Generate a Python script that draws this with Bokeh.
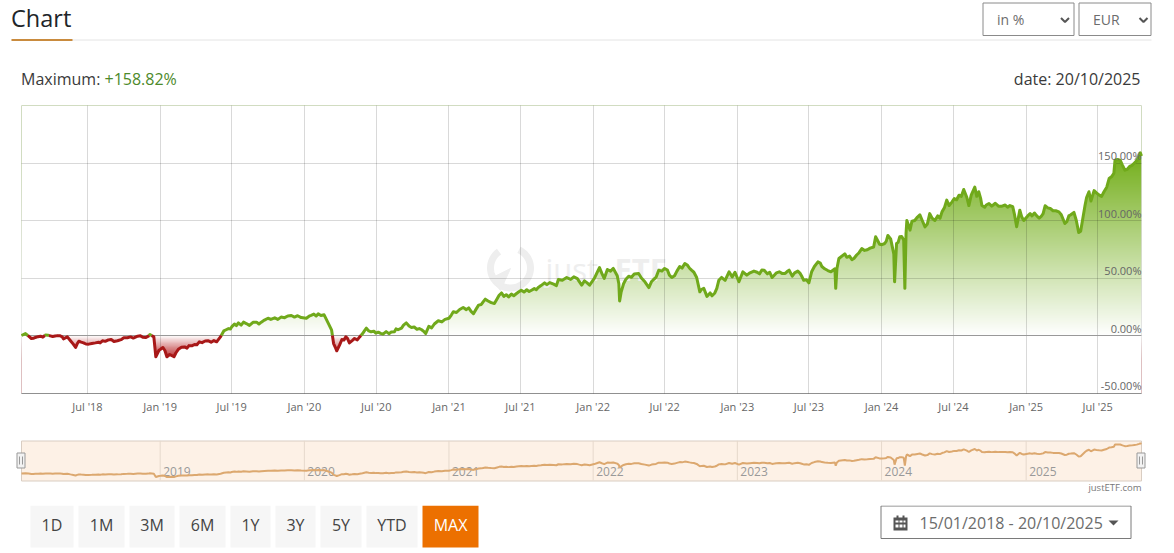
import numpy as np
import pandas as pd
from bokeh.core.properties import value
from bokeh.embed import file_html
from bokeh.layouts import column
from bokeh.models import FixedTicker, Range1d, Span
from bokeh.plotting import figure
from bokeh.resources import INLINE

# ---- data ----
d2018 = ["01-15","01-25","02-02","02-09","02-19","03-04","03-17","03-29","04-10","04-23","05-01","05-11","05-19","06-01","06-09","06-21","07-04","07-21","08-08","08-23","09-15","10-01","10-18","11-05","11-26","12-06","12-16","12-21","12-29"]
v2018 = [0,1.7,-0.6,-2.6,-1.7,-0.6,0.5,-0.3,-0.5,-0.3,-2.9,-1.2,-4.6,-10.4,-5,-6.4,-7.5,-6.4,-4.6,-3.8,-4.6,-2,-1.2,-0.6,-1.7,0.9,-1.2,-18.5,-12.8]
d2019 = ["01-08","01-18","02-05","02-16","03-04","03-22","04-10","05-03","05-24","06-03","06-11","06-23","07-01","07-18","08-07","09-02","09-14","10-01","10-26","11-03","11-29","12-24"]
v2019 = [-10.4,-18.5,-18.5,-12,-9.9,-9,-5.5,-4.6,-5.5,-1,4,6,7.5,11,10.4,11.6,11.6,15,14,16,17.4,15.6]
d2020 = ["01-06","01-25","02-12","02-20","03-02","03-10","03-15","03-23","03-30","04-15","04-24","05-07","05-20","06-06","06-18","07-06","07-18","08-08","08-25","09-15","09-28","10-24","11-03","11-11","12-05"]
v2020 = [15,18.6,17.4,18,10.4,4.6,-7,-13.3,-8.4,-1.2,-6.4,-2.6,-1.2,6.4,3.2,2.9,1.2,3,5,11,7,5,1.7,8,12.8]
d2021 = ["01-01","01-12","02-06","03-04","03-17","04-03","04-26","05-14","06-01","06-21","07-03","07-29","08-15","08-31","09-23","10-05","10-26","11-13","12-03","12-10","12-23"]
v2021 = [15,20.6,24.3,19,26.4,31.6,27.8,37,33.6,36.5,39.4,39.4,41.7,45.8,44.6,48.7,50.4,51,43.8,47.5,43.8]
d2022 = ["01-04","01-17","01-29","02-06","02-21","03-07","03-09","03-19","04-01","04-26","05-12","05-22","06-03","06-16","07-01","07-19","08-01","08-21","09-07","09-20","09-28","10-08","10-16","11-05","11-15","12-01","12-11","12-19","12-26"]
v2022 = [49.6,59,49.6,57.4,58.3,45,30,45,51.6,54,46.7,41.7,48.7,56.8,58.3,50.4,56,62.6,56.8,50.4,38,41,34,37,48,48,55.4,51,55]
d2023 = ["01-05","01-15","01-25","02-12","03-10","03-30","04-17","05-02","05-12","05-20","06-03","06-18","07-01","07-08","07-24","08-10","08-26","09-05","09-07","09-10","09-15","09-30","10-23","11-12","12-12","12-17","12-27"]
v2023 = [46.7,55.4,52.5,56,56.8,50.4,55.4,54,56.8,51.6,56,48,45.8,55.4,64,58,55.4,58,41,58,67,71,67,75.6,77,85.8,79.4]
d2024 = ["01-09","01-17","01-24","02-01","02-03","02-08","02-16","02-26","02-29","03-03","03-05","03-13","03-18","04-07","04-20","05-02","05-15","06-02","06-14","06-27","07-27","08-09","08-24","09-03","09-11","09-29","11-01","11-21","12-08","12-16","12-26"]
v2024 = [80,87,84,71,46.7,80,85.8,83,41,88.7,100,91.6,99.4,105,94.5,106,100,107.5,117.7,116,127,113,129,125,113,114.8,112.5,113,94.5,109,100]
d2025 = ["01-11","02-03","02-18","03-25","04-09","04-19","05-02","05-14","05-19","05-30","06-09","06-14","06-22","07-05","07-17","07-30","08-11","08-14","08-27","09-08","09-26","10-14","10-17","10-20"]
v2025 = [106,102,112.8,107.5,97.4,104,107,89.6,90.7,113,125,117,126,122,125,136.5,141,152.5,152.5,143.8,148,156,158.8,156]

# smaller wiggles of the same curve
e2018 = ["02-14","02-26","03-10","03-23","04-04","04-17","04-28","05-26","06-05","06-15","06-27","07-12","07-29","08-02","08-15","08-30","09-06","09-24","10-10","10-25","11-12","11-18","12-02"]
w2018 = [-2.4,-1,-1.4,0.2,-0.9,-0.1,-1.1,-7.5,-7.2,-5.8,-7.4,-7,-5.8,-6.4,-5.1,-3.5,-5.2,-3.6,-1.9,-2.2,-0.3,-1.5,-0.6]
e2019 = ["01-02","01-13","01-25","02-10","02-24","03-10","03-15","03-29","04-04","04-17","04-25","05-10","05-17","06-17","06-28","07-08","07-13","07-25","07-31","08-15","08-24","09-08","09-22","10-08","10-18","11-12","11-20","12-07","12-15"]
w2019 = [-12,-13,-16.5,-15,-10.2,-11,-8.8,-7.8,-8,-6.2,-4.8,-5.8,-4.4,5,5.7,10,8.6,9,11.6,8.8,11.5,10,13.4,14,15.4,15.5,17,16,17.2]
e2020 = ["01-13","01-18","01-31","02-05","03-19","04-05","04-10","04-19","05-01","05-14","05-27","06-01","06-12","06-25","06-30","07-12","07-26","08-02","08-16","08-20","09-03","09-08","09-22","10-05","10-12","10-18","10-29","11-18","11-25","12-14","12-22"]
w2020 = [16.8,17.5,17,18.8,-10,-3.5,-4,-2.5,-4.4,-3.8,1.5,4,4,3.8,2,1.8,3.4,1.6,3.2,5.8,6.5,9,8.2,7.4,5.4,6,3.6,6.6,10,11.8,14]
e2021 = ["01-07","01-20","01-28","02-14","02-20","02-26","03-10","03-24","03-29","04-10","04-18","05-03","05-08","05-20","05-26","06-08","06-14","06-27","07-10","07-17","07-23","08-05","08-10","08-22","09-06","09-13","09-30","10-15","11-05","11-22","11-27","12-16"]
w2021 = [17.8,20,22.6,22.5,24,21,22.5,27,29.4,30,28.6,32,35,34,35.5,36,34.6,38,37.8,39.8,38.2,40.8,39.8,43.4,44.2,46,43.4,48,48.8,49.4,46.8,46]
e2022 = ["01-10","01-23","02-14","03-03","03-13","03-25","04-08","04-15","05-03","05-29","06-09","06-24","07-08","07-13","07-26","08-08","08-14","08-28","09-02","09-13","10-02","10-24","10-29","11-10","11-22"]
w2022 = [54,54,56,52,38,49,50.6,53.5,50,47,50.5,56,57,52.5,52,60,58.6,61,58.5,55,40,37,34.5,41,50.5]
e2023 = ["02-02","02-20","02-26","03-04","03-18","03-24","04-05","04-10","04-24","05-07","05-26","06-09","06-13","06-25","07-15","07-30","08-03","08-18","10-05","10-12","10-18","10-30","11-05","11-19","11-26","12-03"]
w2023 = [54.5,55,53.6,57,53.6,55,52.6,54.5,54,55.6,54.5,54,51.5,48.5,60,63,60,56.5,68,69,66,70,72,74,74.6,76]
e2024 = ["01-02","01-13","02-12","02-21","03-09","03-25","04-01","04-13","04-26","05-08","05-22","05-28","06-08","06-20","07-03","07-09","07-15","07-21","08-04","08-15","08-29","09-08","09-18","09-22","10-06","10-15","10-23","11-09","11-15","11-28","12-02","12-21"]
w2024 = [79,82,81,86,96,100,103,100,97,102,104,102,111,113,119,118,122,121,120,122,121,119,111.5,113.5,112.5,115,112.5,113.5,111.5,112,106,103]
e2025 = ["01-05","01-16","01-22","01-28","02-08","02-13","02-25","03-03","03-10","03-17","03-31","04-14","04-24","05-08","06-03","06-28","07-11","07-24","08-05","08-20","09-02","09-14","09-20","10-02","10-08"]
w2025 = [104,104,106.5,104,103.5,106,111,110.5,108.5,108.5,105,99,105,100,120,124,121,129,138,153,148,144.5,147,150,152]

x_tick_dates = ["2018-07-01","2019-01-01","2019-07-01","2020-01-01","2020-07-01","2021-01-01","2021-07-01","2022-01-01","2022-07-01","2023-01-01","2023-07-01","2024-01-01","2024-07-01","2025-01-01","2025-07-01"]
x_tick_labels = ["Jul '18","Jan '19","Jul '19","Jan '20","Jul '20","Jan '21","Jul '21","Jan '22","Jul '22","Jan '23","Jul '23","Jan '24","Jul '24","Jan '25","Jul '25"]
y_ticks = [-50, 0, 50, 100, 150]
y_tick_labels = ["-50.00%", "0.00%", "50.00%", "100.00%", "150.00%"]
nav_years = ["2019", "2020", "2021", "2022", "2023", "2024", "2025"]
range_buttons = ["1D", "1M", "3M", "6M", "1Y", "3Y", "5Y", "YTD", "MAX"]
# ------------------------------------

FONT = value("Open Sans")
W = 1174


def ms(d):
    return (pd.to_datetime(d) - pd.Timestamp("1970-01-01")) / pd.Timedelta(milliseconds=1)


years = [(2018, d2018, v2018, e2018, w2018), (2019, d2019, v2019, e2019, w2019),
         (2020, d2020, v2020, e2020, w2020), (2021, d2021, v2021, e2021, w2021),
         (2022, d2022, v2022, e2022, w2022), (2023, d2023, v2023, e2023, w2023),
         (2024, d2024, v2024, e2024, w2024), (2025, d2025, v2025, e2025, w2025)]
pairs = sorted((ms(f"{y}-{d}"), x) for y, ds, vs, es, ws in years for d, x in list(zip(ds, vs)) + list(zip(es, ws)))
t = np.array([a for a, _ in pairs], dtype=float)
v = np.array([b for _, b in pairs], dtype=float)

# add the crossings of the zero line, so green and red meet there
tt, vv = [t[0]], [v[0]]
for i in range(1, len(t)):
    if v[i - 1] * v[i] < 0:
        tt.append(t[i - 1] + (t[i] - t[i - 1]) * (-v[i - 1]) / (v[i] - v[i - 1]))
        vv.append(0.0)
    tt.append(t[i])
    vv.append(v[i])
tt, vv = np.array(tt), np.array(vv)

t0, t1 = ms("2018-01-15"), ms("2025-10-20")
px = (t1 - t0) / 1120.0
tick_ms = [int(ms(d)) for d in x_tick_dates]


def txt(fig, x, y, s, size, color, align="left", baseline="middle", **kw):
    return fig.text([x], [y], text=[s], text_font=FONT, text_font_size=size, text_color=color,
                    text_align=align, text_baseline=baseline, **kw)


def bare(h, y0, y1):
    f = figure(width=W, height=h, x_range=Range1d(0, W), y_range=Range1d(y1, y0),
               output_backend="svg", toolbar_location=None, frame_align=False,
               min_border_left=0, min_border_right=0, min_border_top=0, min_border_bottom=0,
               x_axis_location=None, y_axis_location=None)
    f.grid.visible = False
    f.outline_line_color = None
    return f


# ---- header (page coordinates) ----
head = bare(104, 0, 104)
txt(head, 10.5, 17, "Chart", "23.5px", "#212529")
head.line([11, 1151], [39.5, 39.5], line_color="#e4e4e4", line_width=1)
head.line([11, 72], [39.5, 39.5], line_color="#c98b3e", line_width=2)
for l, r, s, tx, cx in [(982.5, 1073.5, "in %", 996.5, 1064.5), (1078.5, 1150.5, "EUR", 1092.5, 1143)]:
    head.quad(left=[l], right=[r], top=[35], bottom=[2.5], fill_color="white", line_color="#8a8a8a", line_width=1)
    txt(head, tx, 19, s, "14px", "#6c6c6c")
    head.line([cx - 4, cx, cx + 4], [17.5, 21.5, 17.5], line_color="#555555", line_width=2)
txt(head, 20.5, 78, "Maximum:", "16px", "#3a3a3a")
txt(head, 104, 78, "+158.82%", "16px", "#4d8a2b")
txt(head, 1140, 78, "date: 20/10/2025", "16px", "#3a3a3a", align="right")

# ---- main chart ----
Y0, Y1 = -50.43, 200.0
p = figure(width=W, height=321, x_range=Range1d(t0, t1), y_range=Range1d(Y0, Y1),
           output_backend="svg", toolbar_location=None, frame_align=False,
           min_border_left=21, min_border_right=33, min_border_top=1, min_border_bottom=32,
           x_axis_location="below", y_axis_location=None)
p.extra_x_ranges["page"] = Range1d(21, 1141)
p.extra_y_ranges["page"] = Range1d(393, 105)
p.outline_line_color = "#dddddd"
p.background_fill_color = "white"
p.border_fill_color = "white"

ax = p.xaxis[0]
ax.ticker = FixedTicker(ticks=tick_ms)
ax.major_label_overrides = {k: s for k, s in zip(tick_ms, x_tick_labels)}
ax.major_label_text_font = "Open Sans"
ax.major_label_text_font_size = "11px"
ax.major_label_text_color = "#666666"
ax.major_label_standoff = -1
ax.major_tick_line_color = None
ax.minor_tick_line_color = None
ax.axis_line_color = "#aaaaaa"

p.xgrid.ticker = FixedTicker(ticks=tick_ms)
p.ygrid.ticker = FixedTicker(ticks=y_ticks + [200])
for g in (p.xgrid[0], p.ygrid[0]):
    g.grid_line_color = "#000000"
    g.grid_line_alpha = 0.15
    g.level = "guide"

# gradient under the curve: an image of the value scale, masked above and below the curve
N = 500
lev = Y0 + (np.arange(N) + 0.5) * (Y1 - Y0) / N
up = np.clip(lev / 155.0, 0, 1)
dn = np.clip(-lev / 21.0, 0, 1)
R = 255 + up * (118 - 255) + dn * (182 - 255)
G = 255 + up * (176 - 255) + dn * (28 - 255)
B = 255 + up * (30 - 255) + dn * (30 - 255)
img = (R.astype(np.uint32) | (G.astype(np.uint32) << 8) | (B.astype(np.uint32) << 16) | (255 << 24)).reshape(N, 1)
p.image_rgba(image=[img.astype(np.uint32)], x=t0, y=Y0, dw=t1 - t0, dh=Y1 - Y0)
p.varea(x=tt, y1=np.maximum(vv, 0), y2=np.full_like(vv, Y1), fill_color="white")
p.varea(x=tt, y1=np.minimum(vv, 0), y2=np.full_like(vv, Y0), fill_color="white")

# watermark
ang = np.radians(np.linspace(125, 425, 60))
p.line(510 + 20 * np.cos(ang), 267.5 - 20 * np.sin(ang), line_color="#eeeeee", line_width=7,
       x_range_name="page", y_range_name="page")
p.patch([510, 490, 500], [268, 278, 290], fill_color="#eeeeee", line_color="#eeeeee",
        x_range_name="page", y_range_name="page")
txt(p, 545, 268, "just", "31px", "#eeeeee", x_range_name="page", y_range_name="page")
txt(p, 614, 268, "ETF", "31px", "#eeeeee", x_range_name="page", y_range_name="page", text_font_style="bold")

p.add_layout(Span(location=0, dimension="width", line_color="#999999", line_width=1, level="guide"))

pos = np.where(vv >= 0, vv, np.nan)
neg = np.where(vv <= 0, vv, np.nan)
r1 = p.line(tt, pos, line_color="#70a91b", line_width=3, line_join="round")
r2 = p.line(tt, neg, line_color="#a81818", line_width=3, line_join="round")
r1.level = "annotation"
r2.level = "annotation"

lab = p.text(x=[t1] * len(y_ticks), y=y_ticks, text=y_tick_labels, text_font=FONT, text_font_size="11px",
             text_color="#666666", text_align="right", text_baseline="bottom", y_offset=0)
lab.level = "overlay"

# ---- navigator ----
nav = bare(80, 425, 505)
nav.extra_x_ranges["data"] = Range1d(t0 - 21 * px, t1 + 33 * px)
nav.extra_y_ranges["data"] = Range1d(-168.4, 252.6)
nav.quad(left=[21], right=[1141], top=[440.5], bottom=[480.5], fill_color="#fdf1e6", line_color="#d9cdc2", line_width=1)
for yr in nav_years:
    m = ms(f"{yr}-01-01")
    nav.line([m, m], [-36, 172], line_color="#e6d9cc", line_width=1, x_range_name="data", y_range_name="data")
    nav.text([m + 3 * px], [-13], text=[yr], text_font=FONT, text_font_size="12px", text_color="#999999",
             text_baseline="bottom", x_range_name="data", y_range_name="data")
nav.line(t, v, line_color="#dca86f", line_width=2, x_range_name="data", y_range_name="data")
for l, r in [(16.5, 24.5), (1136.5, 1144.5)]:
    nav.quad(left=[l], right=[r], top=[452.5], bottom=[467.5], fill_color="#f2f2f2", line_color="#999999", line_width=1)
    c = (l + r) / 2
    nav.multi_line([[c - 1.5, c - 1.5], [c + 1.5, c + 1.5]], [[456, 464], [456, 464]], line_color="#999999", line_width=1)
txt(nav, 1141, 487, "justETF.com", "9.5px", "#777777", align="right")

# ---- buttons and date box ----
foot = bare(48, 505, 553)
spans = [(30, 73), (78, 124), (129, 174), (179, 225), (230, 270), (275, 315), (320, 361), (366, 417), (422, 478)]
for name, (l, r) in zip(range_buttons, spans):
    on = name == "MAX"
    foot.quad(left=[l], right=[r], top=[547], bottom=[505],
              fill_color="#ec7000" if on else "#f6f6f6", line_color=None)
    txt(foot, (l + r) / 2, 524.5, name, "16px", "#ffffff" if on else "#444444", align="center")
foot.quad(left=[880.5], right=[1130.5], top=[538], bottom=[505.5], fill_color="white", line_color="#7a7a7a", line_width=1)
foot.quad(left=[893], right=[907], top=[530], bottom=[517], fill_color="#555555", line_color=None)
foot.quad(left=[895, 899, 903], right=[898, 902, 905], top=[522, 522, 522], bottom=[520, 520, 520], fill_color="white", line_color=None)
foot.quad(left=[895, 899, 903], right=[898, 902, 905], top=[527, 527, 527], bottom=[524, 524, 524], fill_color="white", line_color=None)
foot.quad(left=[896, 902], right=[898, 904], top=[518, 518], bottom=[515, 515], fill_color="#555555", line_color=None)
txt(foot, 919, 522, "15/01/2018 - 20/10/2025", "16px", "#6c6c6c")
foot.patch([1108, 1118, 1113], [520, 520, 525], fill_color="#555555", line_color=None)

page = column(head, p, nav, foot, spacing=0)
open("out.html", "w").write(file_html(page, INLINE))
